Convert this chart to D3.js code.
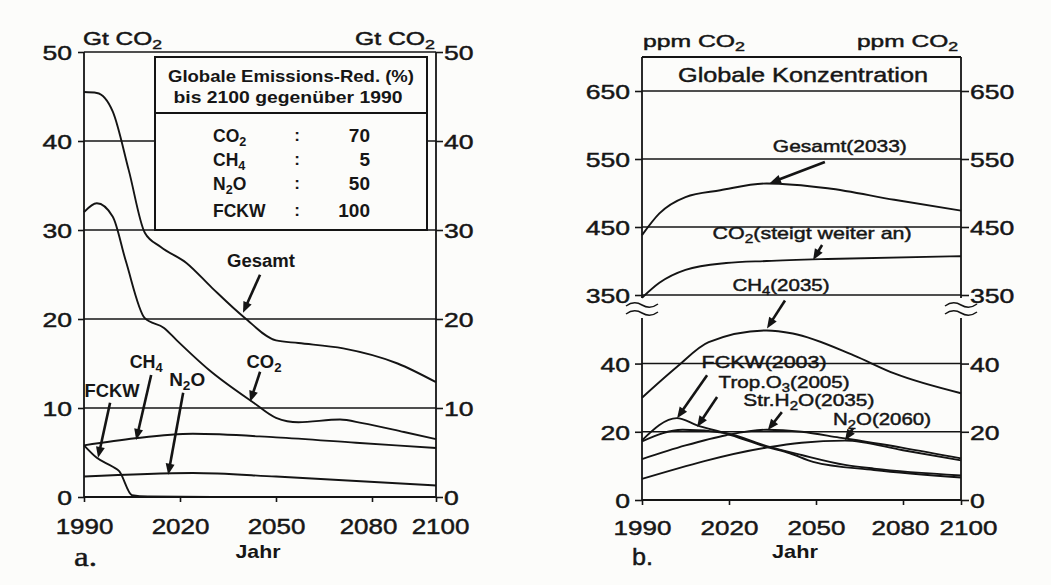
<!DOCTYPE html>
<html><head><meta charset="utf-8">
<script src="https://cdn.jsdelivr.net/npm/d3@7"></script>
<style>
body{margin:0;background:#fcfcfa}
svg{display:block}
text{font-family:"Liberation Sans",Arial,Helvetica,sans-serif;fill:#161616}
text.heavy{stroke:#161616;stroke-width:0.45px}
</style>
</head><body>
<svg id="c" width="1051" height="585"></svg>
<script>
// ---------- data ----------
const xTicks = [1990, 2020, 2050, 2080, 2100];
const leftTicks = [0, 10, 20, 30, 40, 50];
const rightTopTicks = [350, 450, 550, 650];
const rightBotTicks = [0, 20, 40];

// panel a: emissions (Gt CO2)
const gesamtEm = [[1990,45.5],[1994,45.4],[1999,43.3],[2004,36.7],[2009,29.7],[2014,28.1],[2022,26.3],[2030,23.5],[2040,20.2],[2050,17.6],[2057,17.3],[2071,16.7],[2088,15.0],[2100,12.9]];
const co2Em = [[1990,32],[1994,33],[1999,31.5],[2003,26.6],[2009,20.1],[2015,19],[2019,17.6],[2029,14.3],[2043,10.6],[2050,8.9],[2057,8.4],[2070,8.7],[2077,8.3],[2090,7.3],[2100,6.5]];
const ch4Em = [[1990,5.8],[2006,6.6],[2024,7.1],[2050,6.7],[2075,6.1],[2100,5.5]];
const n2oEm = [[1990,2.3],[2024,2.7],[2050,2.3],[2100,1.3]];
const fckwEm = [[1990,5.8],[1994,4.4],[1999,3.4],[2001,2.9],[2005,0.2],[2010,0.05],[2030,0]];

// emission reduction table
const redGases = ["CO_2", "CH_4", "N_2O", "FCKW"];
const redValues = ["70", "5", "50", "100"];

// panel b: concentration (ppm CO2)
const gesamtConc = [[1990,438],[1996,470],[2005,494],[2017,504],[2033,514],[2054,507],[2077,490],[2100,474]];
const co2Conc = [[1990,346],[1996,368],[2005,387],[2019,397],[2033,400],[2054,403],[2100,407]];
const ch4Conc = [[1990,30],[2002,39],[2013,46.3],[2033,49.7],[2042,48.8],[2063,42.4],[2077,37.1],[2100,31.3]];
const fckwConc = [[1990,17.5],[2002,24],[2009,21.9],[2019,19.5],[2033,15.6],[2041,13.7],[2049,11.2],[2070,8.8],[2100,6.6]];
const o3Conc = [[1990,17.2],[2004,20.6],[2019,19.6],[2033,15.8],[2045,13.2],[2060,10.3],[2070,9.2],[2100,7.2]];
const h2oConc = [[1990,12],[2005,16],[2019,19],[2033,20.6],[2045,20],[2058,18.3],[2080,15.3],[2100,12.2]];
const n2oConc = [[1990,6.2],[2033,15.4],[2045,16.8],[2060,17.4],[2080,14.6],[2100,11.6]];

// annotations: label, target year, target value
const leftNotes = [["Gesamt",2039.7,20.7],["CO_2",2041.9,10.7],["CH_4",2006.3,6.4],["N_2O",2016.3,2.5],["FCKW",1994.4,4.4]];
const rightTopNotes = [["Gesamt(2033)",2034.1,514.7],["CO_2(steigt weiter an)",2049,401.5]];
const rightBotNotes = [["CH_4(2035)",2033.1,50.3],["FCKW(2003)",2002.1,24],["Trop.O_3(2005)",2009,21.4],["Str.H_2O(2035)",2033.4,20.5],["N_2O(2060)",2060,17.5]];

// ---------- layout ----------
const svg = d3.select("#c");
svg.append("rect").attr("width",1051).attr("height",585).attr("fill","#fcfcfa");
const INK = "#141414";

const xL = d3.scaleLinear().domain([1990,2100]).range([84,436]);
const yL = d3.scaleLinear().domain([0,50]).range([497,52]);
const xR = d3.scaleLinear().domain([1990,2100]).range([642,961]);
const yRT = d3.scaleLinear().domain([350,700]).range([295,57]);
const yRB = d3.scaleLinear().domain([0,56]).range([500,309]);

function rich(t, str){
  const parts=[];
  for(let i=0;i<str.length;i++){
    if(str[i]==="_"){parts.push({t:str[i+1],sub:true});i++;}
    else if(parts.length && !parts[parts.length-1].sub) parts[parts.length-1].t+=str[i];
    else parts.push({t:str[i],sub:false});
  }
  let shifted=false;
  parts.forEach(p=>{
    const ts=t.append("tspan").text(p.t);
    if(p.sub){ts.attr("dy",4).attr("font-size","0.72em");shifted=true;}
    else if(shifted){ts.attr("dy",-4);shifted=false;}
  });
}
function label(g,x,y,str,o){
  let xx=x;
  const t=g.append("text").attr("y",y).attr("font-size",o.size).attr("font-weight",o.weight||"normal");
  if(!o.weight) t.attr("class","heavy");
  if(o.family) t.style("font-family",o.family);
  if(o.w){
    if(o.anchor==="middle") xx=x-o.w/2; else if(o.anchor==="end") xx=x-o.w;
    t.attr("text-anchor","start").attr("textLength",o.w).attr("lengthAdjust","spacingAndGlyphs");
  } else t.attr("text-anchor",o.anchor||"start");
  t.attr("x",xx);
  rich(t,str);
  return t;
}
function arrow(g,x1,y1,x2,y2){
  const dx=x2-x1, dy=y2-y1, L=Math.hypot(dx,dy), ux=dx/L, uy=dy/L;
  const hl=11, hw=4.5;
  g.append("line").attr("x1",x1).attr("y1",y1).attr("x2",x2-ux*(hl-2)).attr("y2",y2-uy*(hl-2))
    .attr("stroke",INK).attr("stroke-width",2.6);
  const bx=x2-ux*hl, by=y2-uy*hl;
  g.append("path").attr("d",`M${x2},${y2}L${bx-uy*hw},${by+ux*hw}L${bx+uy*hw},${by-ux*hw}Z`).attr("fill",INK);
}
function styleAxis(g, size, sx, posAttr, pos, shifts){
  g.select(".domain").remove();
  g.selectAll(".tick line").attr("stroke",INK).attr("stroke-width",1.6);
  g.selectAll(".tick text").attr("font-size",size).attr("fill","#161616").attr("class","heavy")
    .style("font-family",'"Liberation Sans",Arial,sans-serif');
  if(posAttr==="x"){
    g.selectAll(".tick text").attr("x",pos/sx).attr("dy","0.38em").attr("transform",`scale(${sx},1)`);
  } else {
    g.selectAll(".tick text").attr("y",pos).attr("dy",null)
      .attr("x",d=>((shifts&&shifts[d])||0)/sx).attr("transform",`scale(${sx},1)`);
  }
}

// ================= PANEL A =================
const ga = svg.append("g");
ga.selectAll("line.grid").data(leftTicks.filter(d=>d>0)).join("line")
  .attr("x1",xL(1990)).attr("x2",xL(2100)).attr("y1",d=>yL(d)).attr("y2",d=>yL(d))
  .attr("stroke",INK).attr("stroke-width",1.6);
ga.append("line").attr("x1",xL(1990)).attr("x2",xL(1990)).attr("y1",yL(50)).attr("y2",yL(0)).attr("stroke",INK).attr("stroke-width",1.8);
ga.append("line").attr("x1",xL(2100)).attr("x2",xL(2100)).attr("y1",yL(50)).attr("y2",yL(0)).attr("stroke",INK).attr("stroke-width",1.8);
ga.append("line").attr("x1",xL(1990)).attr("x2",xL(2100)).attr("y1",yL(0)).attr("y2",yL(0)).attr("stroke",INK).attr("stroke-width",1.8);
const aL = ga.append("g").attr("transform",`translate(${xL(1990)},0)`)
  .call(d3.axisLeft(yL).tickValues(leftTicks).tickSize(6).tickFormat(d3.format("d")));
styleAxis(aL,20,1.33,"x",-12);
const aR = ga.append("g").attr("transform",`translate(${xL(2100)},0)`)
  .call(d3.axisRight(yL).tickValues(leftTicks).tickSize(7).tickFormat(d3.format("d")));
styleAxis(aR,20,1.33,"x",8);
const aB = ga.append("g").attr("transform",`translate(0,${yL(0)})`)
  .call(d3.axisBottom(xL).tickValues(xTicks).tickSize(5).tickFormat(d3.format("d")));
styleAxis(aB,22,1.18,"y",37,{2080:-4,2100:4});

// emission table box
const bx0=155, bx1=427, by0=57, by1=yL(30);
ga.append("rect").attr("x",bx0).attr("y",by0).attr("width",bx1-bx0).attr("height",by1-by0)
  .attr("fill","#fcfcfa").attr("stroke",INK).attr("stroke-width",2);
ga.append("line").attr("x1",bx0).attr("x2",bx1).attr("y1",113).attr("y2",113).attr("stroke",INK).attr("stroke-width",1.8);
label(ga,291,82,"Globale Emissions-Red. (%)",{size:16.5,weight:"bold",anchor:"middle",w:246});
label(ga,288,103,"bis 2100 gegenüber 1990",{size:16.5,weight:"bold",anchor:"middle",w:229});
const rowY=[142,166,190,217];
redGases.forEach((g,i)=>{
  label(ga,213,rowY[i],g,{size:17.5,weight:"bold"});
  label(ga,297,rowY[i]-1,":",{size:17,weight:"bold",anchor:"middle"});
  label(ga,370,rowY[i],redValues[i],{size:19,weight:"bold",anchor:"end"});
});

const lineL = d3.line().x(d=>xL(d[0])).y(d=>yL(d[1])).curve(d3.curveMonotoneX);
[gesamtEm,co2Em,ch4Em,n2oEm,fckwEm].forEach(s=>{
  ga.append("path").attr("d",lineL(s)).attr("fill","none").attr("stroke",INK).attr("stroke-width",1.9);
});

const leftOff = [[17,-38,18,-46,68],[10,-30,14,-34,35],[15,-65,10,-72,33],[15,-82,19,-89,36],[12,-55,14,-61,55]];
leftNotes.forEach((n,i)=>{
  const ex=xL(n[1]), ey=yL(n[2]), o=leftOff[i];
  arrow(ga,ex+o[0],ey+o[1],ex,ey);
  label(ga,ex+o[2],ey+o[3],n[0],{size:18,weight:"bold",anchor:"middle",w:o[4]});
});

label(ga,83,45,"Gt CO_2",{size:18,w:79});
label(ga,435,45,"Gt CO_2",{size:18,w:80,anchor:"end"});
label(ga,258,558,"Jahr",{size:19,weight:"bold",anchor:"middle",w:45});
label(ga,74,566,"a.",{size:28,w:23,family:'"Liberation Serif","Times New Roman",serif'});

// ================= PANEL B =================
const gb = svg.append("g");
gb.append("line").attr("x1",xR(1990)).attr("x2",xR(2100)).attr("y1",yRT(700)).attr("y2",yRT(700)).attr("stroke",INK).attr("stroke-width",1.8);
gb.selectAll("line.gt").data(rightTopTicks).join("line")
  .attr("x1",xR(1990)).attr("x2",xR(2100)).attr("y1",d=>yRT(d)).attr("y2",d=>yRT(d)).attr("stroke",INK).attr("stroke-width",1.6);
gb.selectAll("line.gb").data(rightBotTicks).join("line")
  .attr("x1",xR(1990)).attr("x2",xR(2100)).attr("y1",d=>yRB(d)).attr("y2",d=>yRB(d)).attr("stroke",INK).attr("stroke-width",d=>d===0?1.8:1.6);
[xR(1990),xR(2100)].forEach(x=>{
  gb.append("line").attr("x1",x).attr("x2",x).attr("y1",yRT(700)).attr("y2",yRT(350)+3).attr("stroke",INK).attr("stroke-width",1.8);
  gb.append("line").attr("x1",x).attr("x2",x).attr("y1",318).attr("y2",yRB(0)).attr("stroke",INK).attr("stroke-width",1.8);
  [305,313].forEach(y=>{
    gb.append("path").attr("d",`M${x-16},${y+1} q8,-6 16,-1 t16,-1`).attr("fill","none").attr("stroke",INK).attr("stroke-width",1.5);
  });
});
const rT1 = gb.append("g").attr("transform",`translate(${xR(1990)},0)`).call(d3.axisLeft(yRT).tickValues(rightTopTicks).tickSize(7));
styleAxis(rT1,20,1.33,"x",-12);
const rB1 = gb.append("g").attr("transform",`translate(${xR(1990)},0)`).call(d3.axisLeft(yRB).tickValues(rightBotTicks).tickSize(7));
styleAxis(rB1,20,1.33,"x",-12);
const rT2 = gb.append("g").attr("transform",`translate(${xR(2100)},0)`).call(d3.axisRight(yRT).tickValues(rightTopTicks).tickSize(8));
styleAxis(rT2,20,1.33,"x",9);
const rB2 = gb.append("g").attr("transform",`translate(${xR(2100)},0)`).call(d3.axisRight(yRB).tickValues(rightBotTicks).tickSize(8));
styleAxis(rB2,20,1.33,"x",9);
const rX = gb.append("g").attr("transform",`translate(0,${yRB(0)})`)
  .call(d3.axisBottom(xR).tickValues(xTicks).tickSize(5).tickFormat(d3.format("d")));
styleAxis(rX,21,1.24,"y",35,{2080:-3,2100:7});

const lineRT = d3.line().x(d=>xR(d[0])).y(d=>yRT(d[1])).curve(d3.curveMonotoneX);
const lineRB = d3.line().x(d=>xR(d[0])).y(d=>yRB(d[1])).curve(d3.curveMonotoneX);
[gesamtConc,co2Conc].forEach(s=>gb.append("path").attr("d",lineRT(s)).attr("fill","none").attr("stroke",INK).attr("stroke-width",1.9));
[ch4Conc,fckwConc,o3Conc,h2oConc,n2oConc].forEach(s=>gb.append("path").attr("d",lineRB(s)).attr("fill","none").attr("stroke",INK).attr("stroke-width",1.9));

const rtOff = [[55,-21,70,-31,134],[9,-15,-1,-21,199]];
rightTopNotes.forEach((n,i)=>{
  const ex=xR(n[1]), ey=yRT(n[2]), o=rtOff[i];
  arrow(gb,ex+o[0],ey+o[1],ex,ey);
  label(gb,ex+o[2],ey+o[3],n[0],{size:17,anchor:"middle",w:o[4]});
});
const rbOff = [[18,-28,14,-37,97],[30,-43,87,-50,125],[20,-30,87,-39,131],[14,-18,41,-24,131],[8,-12,37,-15,98]];
rightBotNotes.forEach((n,i)=>{
  const ex=xR(n[1]), ey=yRB(n[2]), o=rbOff[i];
  arrow(gb,ex+o[0],ey+o[1],ex,ey);
  label(gb,ex+o[2],ey+o[3],n[0],{size:16.5,anchor:"middle",w:o[4]});
});

label(gb,643,47,"ppm CO_2",{size:17,w:102});
label(gb,958,47,"ppm CO_2",{size:17,w:101,anchor:"end"});
label(gb,803,82,"Globale Konzentration",{size:21,anchor:"middle",w:250});
label(gb,795,558,"Jahr",{size:19,weight:"bold",anchor:"middle",w:46});
label(gb,632,565,"b.",{size:24,w:21});
</script>
</body></html>
